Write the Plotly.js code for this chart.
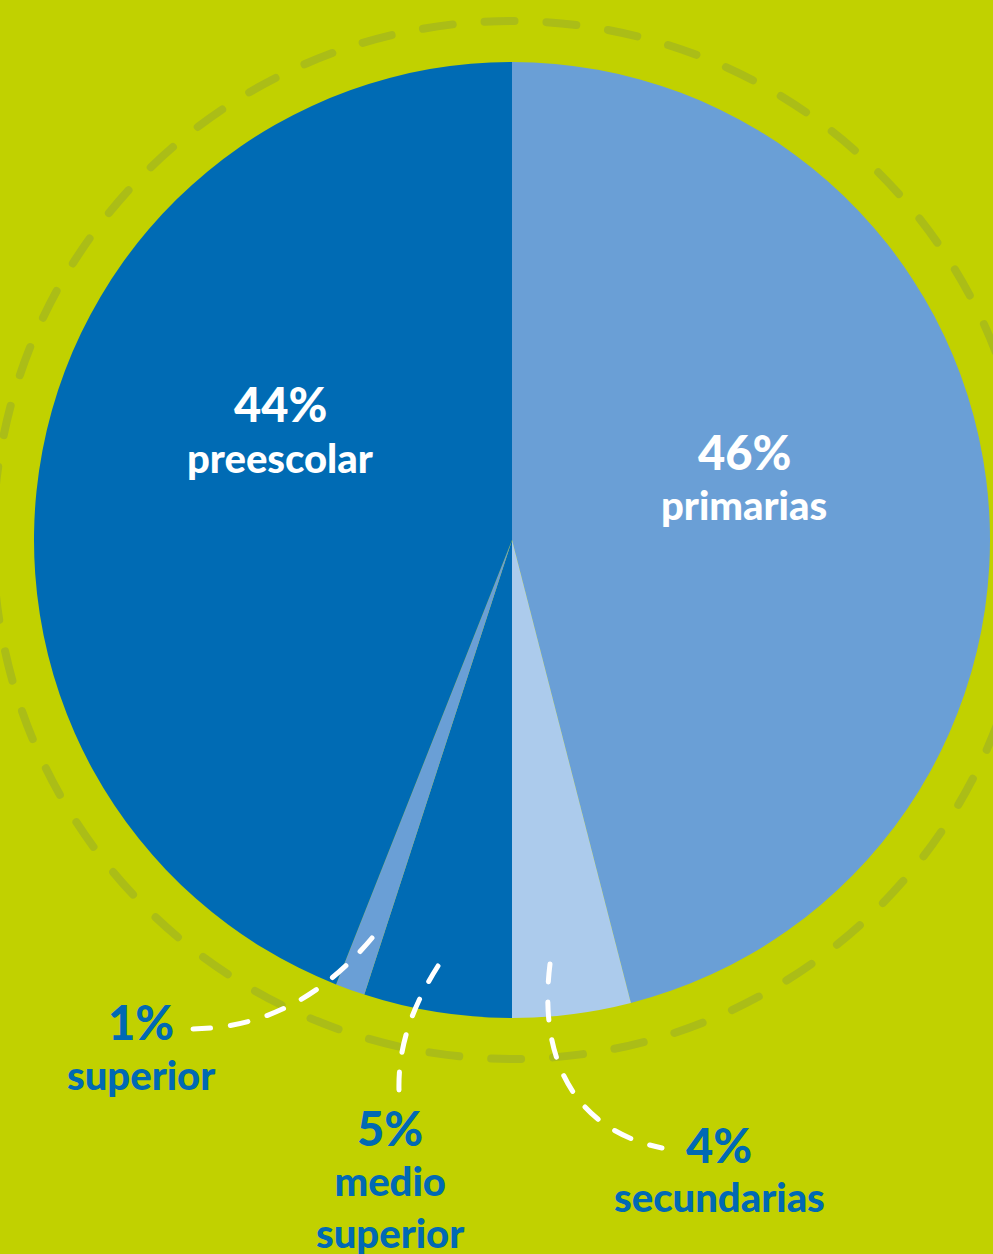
<!DOCTYPE html>
<html>
<head>
<meta charset="utf-8">
<script src="https://cdn.plot.ly/plotly-3.0.1.min.js"></script>
<style>html,body{margin:0;padding:0;background:#c1d100;}#chart{width:993px;height:1254px;}</style>
</head>
<body>
<div id="chart"></div>
<script>
// ---- data ----
const categories = ['primarias', 'secundarias', 'medio superior', 'superior', 'preescolar'];
const values = [46, 4, 5, 1, 44];
const labelLines = ['primarias', 'secundarias', 'medio<br>superior', 'superior', 'preescolar'];

// ---- styles ----
const sliceColors = ['#6a9fd6', '#accbec', '#006bb4', '#6a9fd6', '#006bb4'];
const W = 993, H = 1254;
const px = x => x / W;
const py = y => 1 - y / H;

// label placement (pixel centres): [x, pctY, nameY, color]
const labelPlace = {
  'primarias':      [744, 452, 505, '#ffffff'],
  'secundarias':    [719, 1145, 1197, '#0069b4'],
  'medio superior': [390, 1128, 1207, '#0069b4'],
  'superior':       [141, 1022, 1075, '#0069b4'],
  'preescolar':     [280, 404, 458, '#ffffff']
};

const annotations = [];
categories.forEach((c, i) => {
  const p = labelPlace[c];
  annotations.push({
    xref: 'paper', yref: 'paper', x: px(p[0]), y: py(p[1]),
    xanchor: 'center', yanchor: 'middle', showarrow: false,
    text: values[i] + '%',
    font: {family: 'Lato, "Open Sans", sans-serif', size: 47, color: p[3], weight: 900}
  });
  annotations.push({
    xref: 'paper', yref: 'paper', x: px(p[0]), y: py(p[2]),
    xanchor: 'center', yanchor: 'middle', showarrow: false,
    text: labelLines[i],
    font: {family: 'Lato, "Open Sans", sans-serif', size: 40, color: p[3], weight: 900}
  });
});

function pathStr(pts) {
  // pts: [[x,y], [c1x,c1y], [c2x,c2y], [x,y]] in pixels
  return 'M ' + px(pts[0][0]) + ' ' + py(pts[0][1]) +
    ' C ' + px(pts[1][0]) + ' ' + py(pts[1][1]) + ' ' +
    px(pts[2][0]) + ' ' + py(pts[2][1]) + ' ' +
    px(pts[3][0]) + ' ' + py(pts[3][1]);
}

const leaderLine = {color: '#ffffff', width: 5, dash: '18px,20px'};
const cx = 512, cy = 540, ringR = 519;

const shapes = [
  {type: 'circle', xref: 'paper', yref: 'paper', layer: 'below',
   x0: px(cx - ringR), x1: px(cx + ringR), y0: py(cy + ringR), y1: py(cy - ringR),
   line: {color: '#abbd17', width: 8, dash: '30px,32px'}},
  {type: 'path', xref: 'paper', yref: 'paper', layer: 'above',
   path: pathStr([[372, 938], [320, 1000], [260, 1028], [193, 1029]]), line: leaderLine},
  {type: 'path', xref: 'paper', yref: 'paper', layer: 'above',
   path: pathStr([[438, 966], [410, 1010], [398, 1050], [399, 1090]]), line: leaderLine},
  {type: 'path', xref: 'paper', yref: 'paper', layer: 'above',
   path: pathStr([[550, 964], [538, 1060], [575, 1130], [662, 1148]]), line: leaderLine}
];

const trace = {
  type: 'pie',
  labels: categories,
  values: values,
  sort: false,
  direction: 'clockwise',
  rotation: 0,
  marker: {colors: sliceColors, line: {width: 0}},
  textinfo: 'none',
  textposition: 'none',
  hoverinfo: 'label+percent',
  domain: {x: [px(cx - 478), px(cx + 478)], y: [py(cy + 478), py(cy - 478)]}
};

const layout = {
  width: W, height: H,
  margin: {l: 0, r: 0, t: 0, b: 0},
  paper_bgcolor: '#c1d100',
  plot_bgcolor: '#c1d100',
  showlegend: false,
  annotations: annotations,
  shapes: shapes
};

Plotly.newPlot('chart', [trace], layout, {displayModeBar: false, staticPlot: true}).then(() => {
  document.querySelectorAll('#chart .shapelayer path').forEach(p => {
    p.style.strokeLinecap = 'round';
  });
});
</script>
</body>
</html>
